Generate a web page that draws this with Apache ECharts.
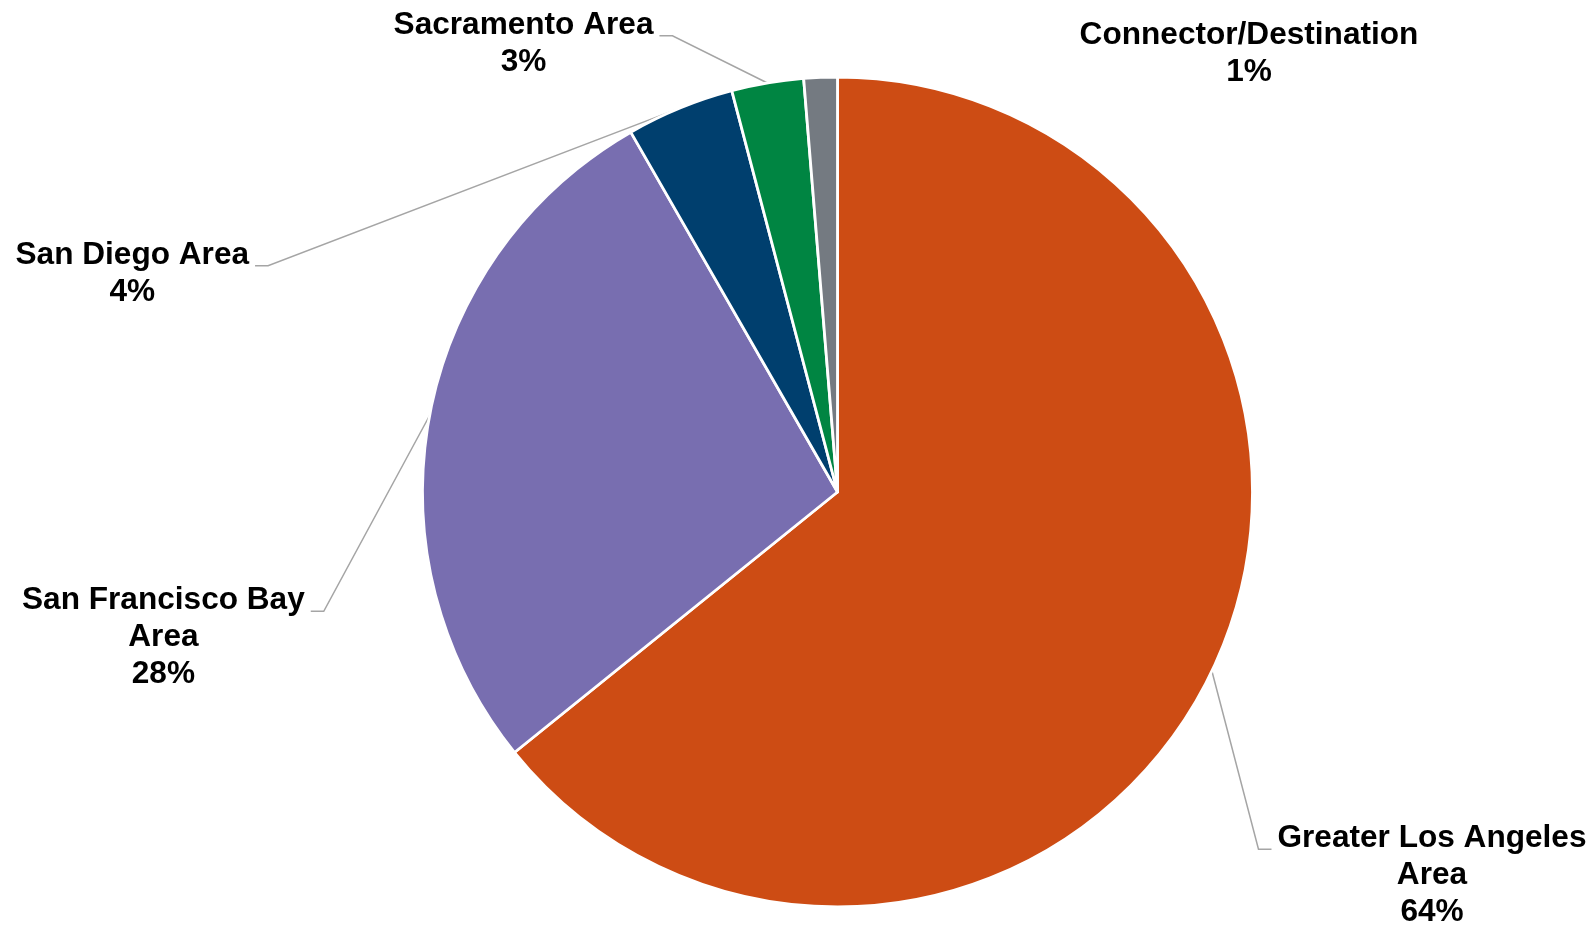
<!DOCTYPE html>
<html>
<head>
<meta charset="utf-8">
<script src="https://cdn.jsdelivr.net/npm/echarts@6/dist/echarts.min.js"></script>
<style>
  html, body { margin: 0; padding: 0; background: #ffffff; }
  #chart { width: 1595px; height: 925px; }
</style>
</head>
<body>
<div id="chart"></div>
<script>
// Share of total by region (percent)
const categories = [
  'Greater Los Angeles\nArea',
  'San Francisco Bay\nArea',
  'San Diego Area',
  'Sacramento Area',
  'Connector/Destination'
];
const shares = [64.2, 27.5, 4.2, 2.8, 1.3];
const sliceColors = ['#CD4C14', '#786EB0', '#003F6E', '#008542', '#747A81'];

// Label placement: centre x, top of the text block, side where the leader line enters
const labelSpots = [
  { x: 1432, y: 820, side: 'left' },
  { x: 163.4, y: 582, side: 'right' },
  { x: 132.3, y: 236.5, side: 'right' },
  { x: 523.5, y: 6.5, side: 'right' },
  { x: 1249, y: 16.5, side: null }
];
const FONT_SIZE = 31.6;
const LINE_H = 37;
const GAP = 6;    // space between leader end and text
const TAIL = 13;  // horizontal run of the leader next to the text

const chart = echarts.init(document.getElementById('chart'), null, { renderer: 'canvas' });

const option = {
  backgroundColor: '#ffffff',
  animation: false,
  series: [{
    type: 'pie',
    center: [837.5, 492],
    radius: 415,
    startAngle: 90,
    clockwise: true,
    avoidLabelOverlap: false,
    percentPrecision: 0,
    itemStyle: { borderColor: '#ffffff', borderWidth: 2.8 },
    emphasis: { disabled: true },
    label: {
      show: true,
      position: 'outside',
      formatter: '{b}\n{d}%',
      fontFamily: '"Liberation Sans", Arial, sans-serif',
      fontWeight: 'bold',
      fontSize: FONT_SIZE,
      lineHeight: LINE_H,
      color: '#000000',
      align: 'center'
    },
    labelLine: {
      show: true,
      length: 20,
      length2: 10,
      lineStyle: { color: '#A5A5A5', width: 1.5 }
    },
    labelLayout: function (p) {
      const spot = labelSpots[p.dataIndex];
      const out = { x: spot.x, y: spot.y, align: 'center', verticalAlign: 'top' };
      if (spot.side && p.labelLinePoints) {
        const half = p.labelRect.width / 2;
        const ly = spot.y + LINE_H / 2 + FONT_SIZE * 0.34;
        const endX = spot.side === 'left' ? spot.x - half - GAP : spot.x + half + GAP;
        const elbowX = spot.side === 'left' ? endX - TAIL : endX + TAIL;
        out.labelLinePoints = [p.labelLinePoints[0], [elbowX, ly], [endX, ly]];
      }
      return out;
    },
    data: categories.map(function (name, i) {
      const item = { name: name, value: shares[i], itemStyle: { color: sliceColors[i] } };
      if (!labelSpots[i].side) item.labelLine = { show: false };
      return item;
    })
  }]
};

chart.setOption(option);
</script>
</body>
</html>
